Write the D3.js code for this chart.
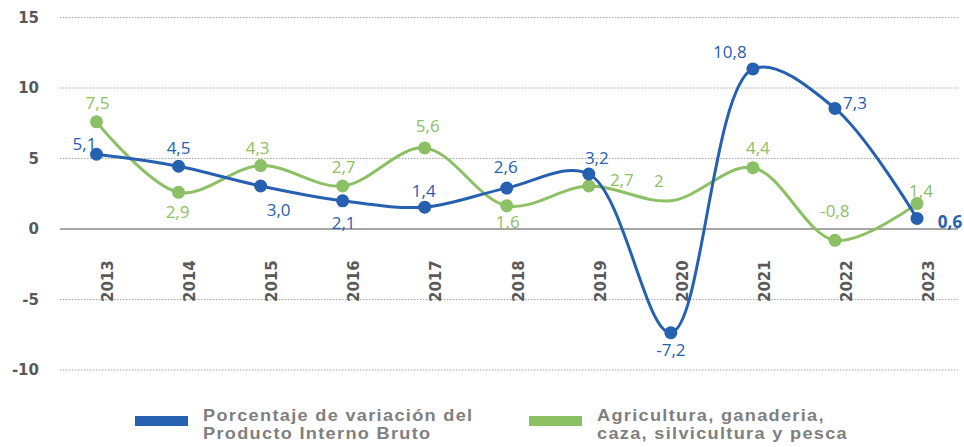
<!DOCTYPE html>
<html>
<head>
<meta charset="utf-8">
<script src="https://cdn.jsdelivr.net/npm/d3@7"></script>
<style>
  body { margin: 0; background: #fff; }
  svg { display: block; }
</style>
</head>
<body>
<svg id="chart" width="964" height="447"></svg>
<script>
// data
const years = ["2013", "2014", "2015", "2016", "2017", "2018", "2019", "2020", "2021", "2022", "2023"];
const pibValues = [5.3, 4.45, 3.05, 2.0, 1.55, 2.9, 3.9, -7.35, 11.35, 8.55, 0.75];
const pibLabels = ["5,1", "4,5", "3,0", "2,1", "1,4", "2,6", "3,2", "-7,2", "10,8", "7,3", "0,6"];
const agroValues = [7.6, 2.6, 4.5, 3.05, 5.75, 1.65, 3.05, 2.0, 4.35, -0.8, 1.8];
const agroLabels = ["7,5", "2,9", "4,3", "2,7", "5,6", "1,6", "2,7", "2", "4,4", "-0,8", "1,4"];
const agroMarker = [true, true, true, true, true, true, true, false, true, true, true];
const yTicks = [15, 10, 5, 0, -5, -10];
const legendNames = [
    ["Porcentaje de variación del", "Producto Interno Bruto"],
    ["Agricultura, ganaderia,", "caza, silvicultura y pesca"]
];

// label placement around each point (dx, dy of the baseline)
const pibLabelPos = [[-12, -4], [0, -12], [18, 30], [1, 28], [-1, -10], [-1, -15], [8, -10], [0, 23], [-23, -11], [20, 1], [33, 10]];
const agroLabelPos = [[1, -13], [-1, 26], [-3, -12], [1, -13], [3, -16], [1, 22], [33, 0], [-12, -14], [5, -14], [0, -23], [4, -7]];

const blue = "#2660b0";
const green = "#8cc064";
const axisGrey = "#595959";

const svg = d3.select("#chart");

const x = d3.scalePoint().domain(years).range([96.5, 917]);
const y = d3.scaleLinear().domain([-10, 15]).range([370, 17.5]);

// gridlines
const grid = svg.append("g");
grid.selectAll("line")
    .data(yTicks.filter(d => d !== 0))
    .join("line")
    .attr("x1", 60)
    .attr("x2", 958)
    .attr("y1", d => y(d))
    .attr("y2", d => y(d))
    .attr("stroke", "#a6a6a6")
    .attr("stroke-width", 1)
    .attr("stroke-dasharray", "1.5,1.5");

// zero line
svg.append("line")
    .attr("x1", 60)
    .attr("x2", 958)
    .attr("y1", y(0))
    .attr("y2", y(0))
    .attr("stroke", "#a6a6a6")
    .attr("stroke-width", 2);

// y axis labels
const yAxis = svg.append("g")
    .attr("transform", "translate(39,0)")
    .call(d3.axisLeft(y).tickValues(yTicks).tickFormat(d => String(d)).tickSize(0).tickPadding(0));
yAxis.select(".domain").remove();
yAxis.selectAll("text")
    .attr("fill", axisGrey)
    .attr("font-family", "DejaVu Sans")
    .attr("font-weight", "bold")
    .attr("font-size", 15);

// x labels, rotated, sitting just under the zero line
const xAxis = svg.append("g")
    .attr("transform", `translate(0,${y(0)})`)
    .call(d3.axisBottom(x).tickSize(0).tickPadding(0));
xAxis.select(".domain").remove();
xAxis.selectAll("text")
    .attr("fill", axisGrey)
    .attr("font-family", "DejaVu Sans")
    .attr("font-weight", "bold")
    .attr("font-size", 15)
    .attr("text-anchor", "start")
    .attr("x", -73)
    .attr("y", 0)
    .attr("dy", "0.35em")
    .attr("transform", "translate(11,0) rotate(-90)");

const line = d3.line()
    .x((d, i) => x(years[i]))
    .y(d => y(d))
    .curve(d3.curveCatmullRom.alpha(0.5));

function drawSeries(values, labels, labelPos, color, markers, boldLast) {
    const g = svg.append("g");
    g.append("path")
        .datum(values)
        .attr("fill", "none")
        .attr("stroke", color)
        .attr("stroke-width", 3)
        .attr("d", line);
    g.selectAll("circle")
        .data(values.map((v, i) => ({v, i})).filter(d => markers[d.i]))
        .join("circle")
        .attr("cx", d => x(years[d.i]))
        .attr("cy", d => y(d.v))
        .attr("r", 6.5)
        .attr("fill", color);
    g.selectAll("text")
        .data(values.map((v, i) => ({v, i})))
        .join("text")
        .attr("x", d => x(years[d.i]) + labelPos[d.i][0])
        .attr("y", d => y(d.v) + labelPos[d.i][1])
        .attr("text-anchor", "middle")
        .attr("font-family", "Open Sans")
        .attr("font-size", 17)
        .attr("font-weight", d => (boldLast && d.i === values.length - 1) ? "bold" : "normal")
        .attr("fill", color)
        .text(d => labels[d.i]);
}

drawSeries(agroValues, agroLabels, agroLabelPos, green, agroMarker, false);
drawSeries(pibValues, pibLabels, pibLabelPos, blue, years.map(() => true), true);

// legend
const legendX = [135, 529];
const legendColors = [blue, green];
const legend = svg.append("g");
legendNames.forEach((lines, i) => {
    legend.append("rect")
        .attr("x", legendX[i])
        .attr("y", 416)
        .attr("width", 53)
        .attr("height", 10)
        .attr("fill", legendColors[i]);
    lines.forEach((s, k) => {
        legend.append("text")
            .attr("transform", `translate(${legendX[i] + 68},${420.5 + k * 18.5}) scale(1.1,1)`)
            .attr("font-family", "Liberation Sans")
            .attr("font-weight", "bold")
            .attr("font-size", 16.5)
            .attr("letter-spacing", 1.2)
            .attr("fill", "#7f7f7f")
            .text(s);
    });
});
</script>
</body>
</html>
